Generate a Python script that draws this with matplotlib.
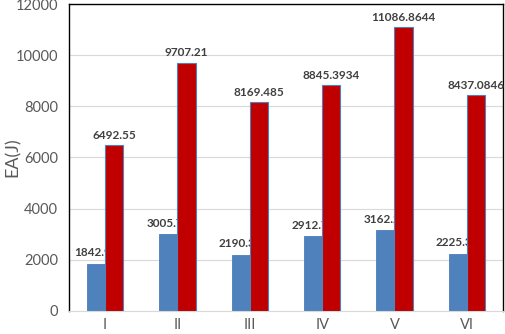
import numpy as np
import matplotlib
matplotlib.use("Agg")
import matplotlib.pyplot as plt

plt.rcParams['font.family'] = ['Lato', 'DejaVu Sans']

cats = ["I", "II", "III", "IV", "V", "VI"]
blue_vals = [1842.97, 3005.78, 2190.31, 2912.72, 3162.29, 2225.39]
red_vals = [6492.55, 9707.21, 8169.485, 8845.3934, 11086.8644, 8437.0846]
blue_lbl = ["1842.97", "3005.78", "2190.31", "2912.72", "3162.29", "2225.39"]
red_lbl = ["6492.55", "9707.21", "8169.485", "8845.3934", "11086.8644", "8437.0846"]

fig = plt.figure(figsize=(5.05, 3.34), dpi=100)
ax = fig.add_axes([0.1366, 0.069, 0.8594, 0.919])

x = np.arange(len(cats))
w = 0.25
ax.bar(x - w/2, blue_vals, w, color="#4F81BD", edgecolor="#4A7EBB", linewidth=0.6, zorder=2)
ax.bar(x + w/2, red_vals, w, color="#C00000", edgecolor="#4F81BD", linewidth=0.8, zorder=4)

for xi, v, t in zip(x, blue_vals, blue_lbl):
    ax.annotate(t, (xi - w/2, v), xytext=(0, 4), textcoords="offset points",
                ha="center", va="bottom", fontsize=8.5, fontweight="bold",
                color="#404040", zorder=3)
for xi, v, t in zip(x, red_vals, red_lbl):
    ax.annotate(t, (xi + w/2, v), xytext=(0, 3), textcoords="offset points",
                ha="center", va="bottom", fontsize=8.5, fontweight="bold",
                color="#404040", zorder=5)

ax.set_xlim(-0.5, 5.5)
ax.set_ylim(0, 12000)
ax.set_yticks(np.arange(0, 12001, 2000))
ax.set_xticks(x)
ax.set_xticklabels(cats)
ax.grid(axis="y", color="#D9D9D9", linewidth=0.8, zorder=0)
ax.set_axisbelow(True)
ax.tick_params(axis="both", length=0, labelsize=10.5, labelcolor="#595959")
ax.tick_params(axis="x", pad=5)
ax.tick_params(axis="y", pad=8)
ax.set_ylabel("EA(J)", fontsize=13, color="#595959")
ax.yaxis.set_label_coords(-0.11, 0.5)

for s in ["left", "top", "right"]:
    ax.spines[s].set_color("#000000")
    ax.spines[s].set_linewidth(1.0)
ax.spines["bottom"].set_color("#D9D9D9")

fig.savefig("out.png", dpi=100)
